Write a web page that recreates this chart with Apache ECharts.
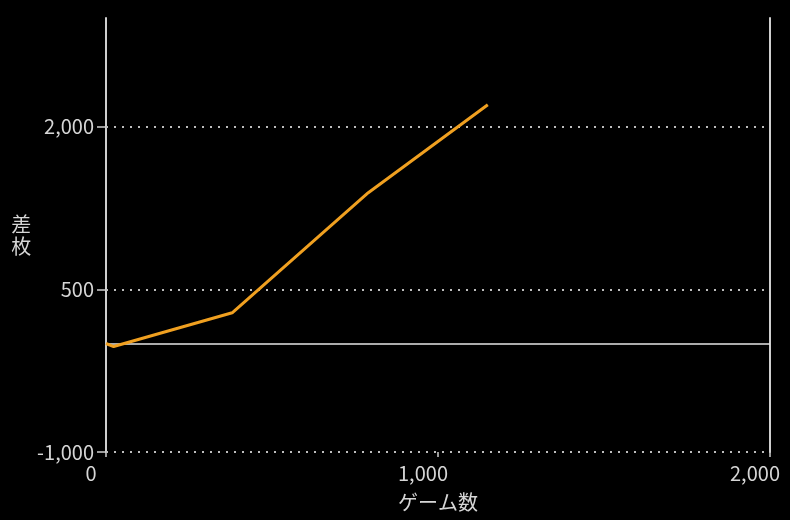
<!DOCTYPE html>
<html>
<head>
<meta charset="utf-8">
<script src="https://cdn.jsdelivr.net/npm/echarts@6/dist/echarts.min.js"></script>
<style>
html,body{margin:0;padding:0;background:#000;}
#chart{width:790px;height:520px;}
</style>
</head>
<body>
<div id="chart"></div>
<script>
// Data
const games = [0, 23, 380, 790, 1150];
const diff = [0, -28, 283, 1390, 2200];
const yGuides = [-1000, 500, 2000];
const zeroLine = 0;
const xName = 'ゲーム数';
const yName = '差\n枚';

const FONT = '"Noto Sans CJK JP", "Noto Sans", sans-serif';
const TXT = '#d6d6d6';
const AX = '#cfcfcf';

const chart = echarts.init(document.getElementById('chart'), null, {renderer: 'canvas'});
chart.setOption({
  backgroundColor: '#000',
  animation: false,
  grid: {left: 106, right: 20, top: 18, bottom: 68, containLabel: false},
  xAxis: {
    type: 'value', min: 0, max: 2000, interval: 1000,
    name: xName, nameLocation: 'middle', nameGap: 40,
    nameTextStyle: {color: TXT, fontSize: 20, fontFamily: FONT},
    axisLine: {show: false, onZero: false},
    axisTick: {show: true, length: 5, lineStyle: {color: AX, width: 1.5}},
    axisLabel: {color: TXT, fontSize: 20, fontFamily: FONT, margin: 11, padding: [0, 30, 0, 0],
      formatter: v => v.toLocaleString('en-US')},
    splitLine: {show: false}
  },
  yAxis: [{
    type: 'value', min: -1000, max: 3000, interval: 1500,
    name: yName, nameLocation: 'middle', nameGap: 74, nameRotate: 0,
    nameTextStyle: {color: TXT, fontSize: 20, fontFamily: FONT, lineHeight: 22},
    axisLine: {show: true, onZero: false, lineStyle: {color: AX, width: 2}},
    axisTick: {show: true, length: 9, lineStyle: {color: AX, width: 1.5}},
    axisLabel: {color: TXT, fontSize: 20, fontFamily: FONT, margin: 12, showMaxLabel: false,
      formatter: v => v.toLocaleString('en-US')},
    splitLine: {show: false}
  }, {
    type: 'value', min: -1000, max: 3000, interval: 1500, position: 'right',
    axisLine: {show: true, onZero: false, lineStyle: {color: AX, width: 2}},
    axisTick: {show: false}, axisLabel: {show: false}, splitLine: {show: false}
  }],
  series: [{
    type: 'line',
    data: games.map((g, i) => [g, diff[i]]),
    showSymbol: false,
    lineStyle: {color: '#f0a020', width: 3},
    itemStyle: {color: '#f0a020'},
    z: 5,
    markLine: {
      silent: true, symbol: 'none', label: {show: false},
      data: yGuides.map(v => ({yAxis: v, lineStyle: {color: '#bdbdbd', type: [2, 6], width: 2}}))
        .concat([{yAxis: zeroLine, lineStyle: {color: '#e6e6e6', type: 'solid', width: 1.5}}])
    }
  }]
});
</script>
</body>
</html>
